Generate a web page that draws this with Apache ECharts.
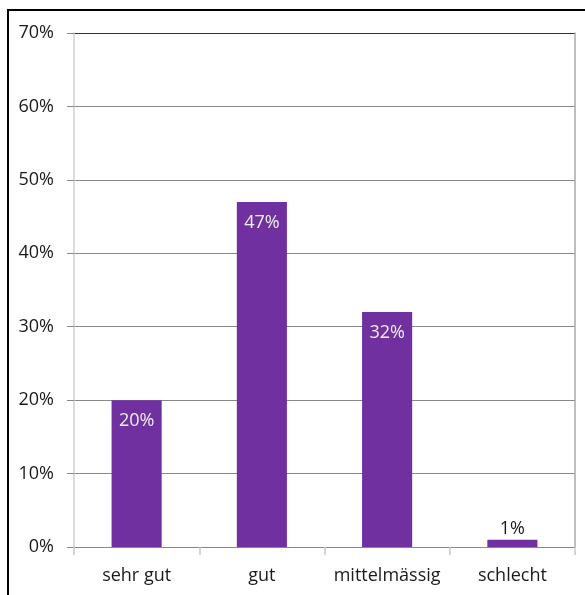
<!DOCTYPE html>
<html>
<head>
<meta charset="utf-8">
<script src="https://cdn.jsdelivr.net/npm/echarts@6/dist/echarts.min.js"></script>
<style>
  html, body { margin: 0; padding: 0; background: #fff; }
  #chart { width: 585px; height: 595px; }
</style>
</head>
<body>
<div id="chart"></div>
<script>
// Survey ratings: share of answers per category
const categories = ['sehr gut', 'gut', 'mittelmässig', 'schlecht'];
const shares = [20, 47, 32, 1];
const yTicks = [0, 10, 20, 30, 40, 50, 60, 70];

const FONT = '"Open Sans", "Noto Sans", sans-serif';
const BAR = '#7030A0';

const chart = echarts.init(document.getElementById('chart'), null, { renderer: 'canvas' });

chart.setOption({
  animation: false,
  backgroundColor: '#fff',
  textStyle: { fontFamily: FONT },
  graphic: [{
    type: 'rect',
    shape: { x: 8, y: 10, width: 700, height: 700 },
    style: { fill: 'none', stroke: '#000', lineWidth: 2 },
    silent: true,
    z: 100
  }],
  grid: { left: 74, right: 10, top: 33, bottom: 48, containLabel: false },
  xAxis: {
    type: 'category',
    data: categories,
    boundaryGap: true,
    axisLine: { show: true, lineStyle: { color: '#888', width: 1 } },
    axisTick: { show: true, interval: 0, length: 8, alignWithLabel: false, lineStyle: { color: '#c8c8c8', width: 1.5 } },
    axisLabel: { interval: 0, margin: 20, fontSize: 18, color: '#1a1a1a', fontFamily: FONT },
    splitLine: { show: false }
  },
  yAxis: [{
    type: 'value',
    min: yTicks[0],
    max: yTicks[yTicks.length - 1],
    interval: 10,
    axisLine: { show: true, lineStyle: { color: '#d0d0d0', width: 1.5 } },
    axisTick: { show: true, length: 7, lineStyle: { color: '#888', width: 1 } },
    axisLabel: { margin: 20, fontSize: 18, color: '#1a1a1a', fontFamily: FONT, formatter: '{value}%' },
    splitLine: {
      show: true,
      lineStyle: { color: ['#888', '#888', '#888', '#888', '#888', '#888', '#888', '#333'], width: 1 }
    }
  }, {
    type: 'value',
    position: 'right',
    min: yTicks[0],
    max: yTicks[yTicks.length - 1],
    interval: 10,
    axisLine: { show: true, lineStyle: { color: '#aaa', width: 1.5 } },
    axisTick: { show: false },
    axisLabel: { show: false },
    splitLine: { show: false }
  }],
  series: [{
    type: 'bar',
    yAxisIndex: 0,
    barWidth: '40%',
    data: shares.map(function (v) {
      const small = v < 5;
      return {
        value: v,
        label: small
          ? { show: true, position: 'top', distance: 2, color: '#1a1a1a' }
          : { show: true, position: 'insideTop', distance: 12, color: '#eeeeee' }
      };
    }),
    itemStyle: { color: BAR },
    label: { show: true, fontSize: 18, fontFamily: FONT, formatter: '{c}%' }
  }]
});
</script>
</body>
</html>
